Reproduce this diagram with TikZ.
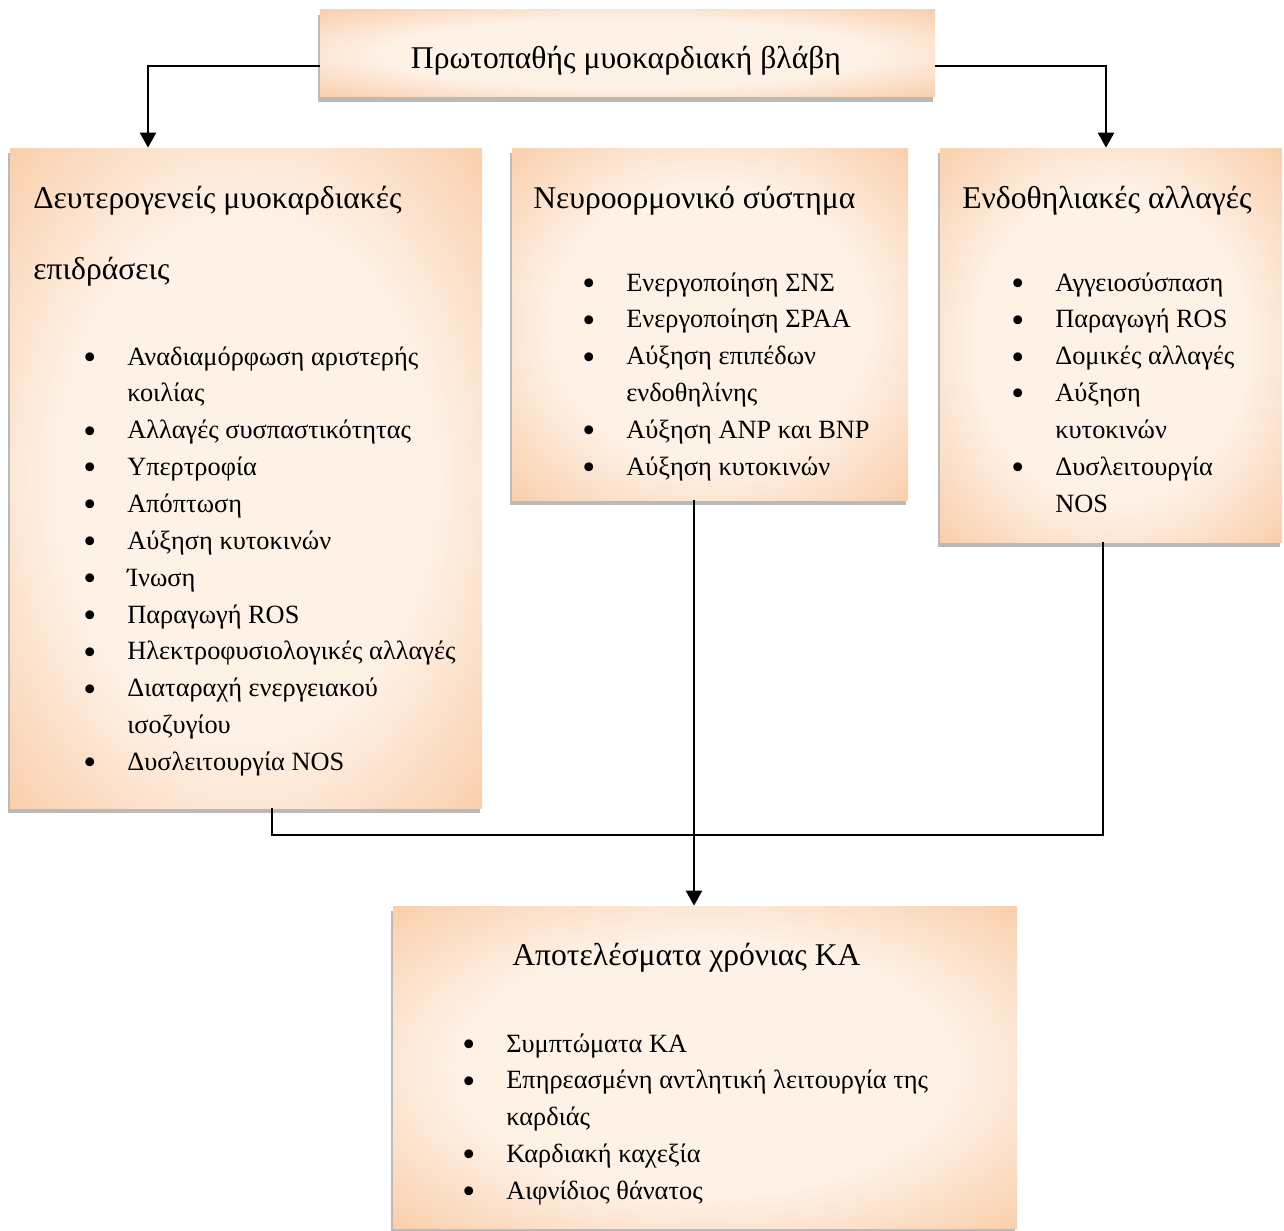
\documentclass[tikz,border=0pt]{standalone}
\usepackage{fontspec}
\setmainfont{Liberation Serif}
\usetikzlibrary{arrows.meta,fit,shadows}

\definecolor{boxedge}{RGB}{245,174,116}
\definecolor{boxpale}{RGB}{254,241,230}
\pgfdeclareradialshading{boxshade}{\pgfpoint{0bp}{0bp}}{color(0bp)=(boxpale); color(20bp)=(boxpale); color(50bp)=(boxedge); color(72bp)=(boxedge)}

\newcommand{\headfont}{\fontsize{18}{40.8}\selectfont}
\newcommand{\itemfont}{\fontsize{15}{20.98}\selectfont}
\newcommand{\blist}[1]{\begin{tabular}[t]{@{}p{0.88cm}@{}l@{}}#1\end{tabular}}
\newcommand{\bu}{\raisebox{-2.5pt}{\fontsize{21}{20.98}\selectfont\textbullet} &}

\begin{document}
\begin{tikzpicture}[x=0.02cm,y=-0.02cm,
  panel/.style={inner sep=0pt,shading=boxshade,drop shadow={shadow xshift=-1pt,shadow yshift=-3pt,fill=black!45,opacity=0.6}},
  head/.style={anchor=base west,font=\headfont,inner sep=0pt},
  items/.style={anchor=base west,font=\itemfont,inner sep=0pt},
  conn/.style={line width=1.6pt,-{Triangle[width=9pt,length=8.5pt]}},
  link/.style={line width=1.3pt}]

\fill[white] (0,0) rectangle (1284,1230);
\useasboundingbox (0,0) rectangle (1284,1230);

% boxes
\node[panel,fit={(320,10) (935,97)}] (dmg) {};
\node[panel,fit={(10,148) (482,808)}] (sec) {};
\node[panel,fit={(512,148) (908,500)}] (neuro) {};
\node[panel,fit={(940,148) (1282,542)}] (endo) {};
\node[panel,fit={(393,906) (1017,1228)}] (res) {};

% top
\node[font=\headfont,anchor=base,inner sep=0pt] (dmgt) at (626,69) {Πρωτοπαθής μυοκαρδιακή βλάβη};

% left
\node[head] (sect) at (33,208) {\begin{tabular}[t]{@{}l@{}}Δευτερογενείς μυοκαρδιακές\\ επιδράσεις\end{tabular}};
\node[items] (secl) at (83,365) {\blist{
\bu Αναδιαμόρφωση αριστερής\\
 & κοιλίας\\
\bu Αλλαγές συσπαστικότητας\\
\bu Υπερτροφία\\
\bu Απόπτωση\\
\bu Αύξηση κυτοκινών\\
\bu Ίνωση\\
\bu Παραγωγή ROS\\
\bu Ηλεκτροφυσιολογικές αλλαγές\\
\bu Διαταραχή ενεργειακού\\
 & ισοζυγίου\\
\bu Δυσλειτουργία NOS}};

% middle
\node[head] (neurot) at (533,208) {Νευροορμονικό σύστημα};
\node[items] (neurol) at (582,291) {\blist{
\bu Ενεργοποίηση ΣΝΣ\\
\bu Ενεργοποίηση ΣΡΑΑ\\
\bu Αύξηση επιπέδων\\
 & ενδοθηλίνης\\
\bu Αύξηση ANP και BNP\\
\bu Αύξηση κυτοκινών}};

% right
\node[head] (endot) at (962,208) {Ενδοθηλιακές αλλαγές};
\node[items] (endol) at (1011,291) {\blist{
\bu Αγγειοσύσπαση\\
\bu Παραγωγή ROS\\
\bu Δομικές αλλαγές\\
\bu Αύξηση\\
 & κυτοκινών\\
\bu Δυσλειτουργία\\
 & NOS}};

% bottom
\node[head] (rest) at (512,965) {Αποτελέσματα χρόνιας ΚΑ};
\node[items] (resl) at (462,1052) {\blist{
\bu Συμπτώματα ΚΑ\\
\bu Επηρεασμένη αντλητική λειτουργία της\\
 & καρδιάς\\
\bu Καρδιακή καχεξία\\
\bu Αιφνίδιος θάνατος}};

% connectors
\coordinate (tl) at (148,66);
\coordinate (tr) at (1106,66);
\coordinate (jl) at (272,835);
\coordinate (jm) at (694,835);
\coordinate (jr) at (1103,835);
\draw[conn] (dmg.west |- tl) -| (sec.north -| tl);
\draw[conn] (dmg.east |- tr) -| (endo.north -| tr);
\draw[link] (sec.south -| jl) |- (jr) -- (endo.south -| jr);
\draw[conn] (neuro.south -| jm) -- (res.north -| jm);
\end{tikzpicture}
\end{document}
